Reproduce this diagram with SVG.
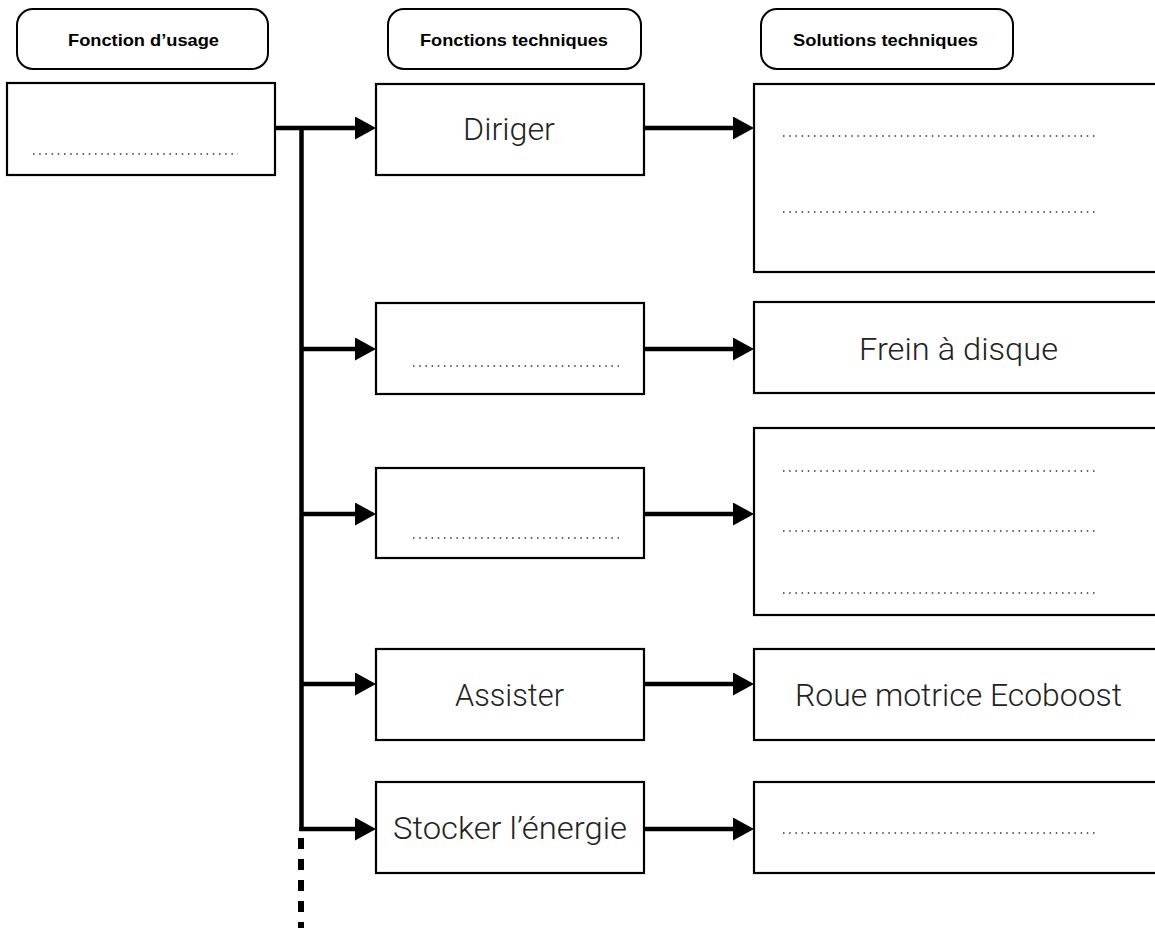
<svg xmlns="http://www.w3.org/2000/svg" width="1155" height="928" viewBox="0 0 1155 928">
<style>
.pill{fill:#fff;stroke:#000;stroke-width:2}
.box{fill:#fff;stroke:#000;stroke-width:2.2}
.hdr{font-family:"Liberation Sans",Arial,sans-serif;font-weight:bold;font-size:17px;fill:#000;text-anchor:middle}
.lbl{font-family:Roboto,"Liberation Sans",sans-serif;font-weight:300;font-size:30.5px;fill:#222;text-anchor:middle}
.dots{stroke:#333;stroke-width:1.5;stroke-dasharray:1.5 4.7;fill:none}
.conn{stroke:#000;stroke-width:4.5;fill:none}
</style>
<defs>
<marker id="ah" markerUnits="userSpaceOnUse" markerWidth="21" markerHeight="23" refX="4" refY="11.5" orient="auto">
<path d="M0,0 L21,11.5 L0,23 Z" fill="#000"/>
</marker>
</defs>
<g id="hdr-usage"><rect class="pill" x="17" y="9" width="251" height="60" rx="16"/><text class="hdr" x="143.5" y="46" textLength="151" lengthAdjust="spacingAndGlyphs">Fonction d’usage</text></g>
<g id="hdr-fonctions"><rect class="pill" x="388" y="9" width="253" height="60" rx="16"/><text class="hdr" x="514" y="46" textLength="188" lengthAdjust="spacingAndGlyphs">Fonctions techniques</text></g>
<g id="hdr-solutions"><rect class="pill" x="761" y="9" width="252" height="60" rx="16"/><text class="hdr" x="885.5" y="46" textLength="185" lengthAdjust="spacingAndGlyphs">Solutions techniques</text></g>

<g id="usage"><rect class="box" x="7" y="83" width="268" height="92"/><line class="dots" x1="33" y1="154" x2="238" y2="154"/></g>

<g id="ft-diriger"><rect class="box" x="376" y="84" width="268" height="91"/><text class="lbl" x="509" y="140" textLength="92" lengthAdjust="spacingAndGlyphs">Diriger</text></g>
<g id="ft-2"><rect class="box" x="376" y="303" width="268" height="91"/><line class="dots" x1="413" y1="366" x2="619" y2="366"/></g>
<g id="ft-3"><rect class="box" x="376" y="468" width="268" height="90"/><line class="dots" x1="413" y1="538" x2="619" y2="538"/></g>
<g id="ft-assister"><rect class="box" x="376" y="649" width="268" height="91"/><text class="lbl" x="509.5" y="706" textLength="109" lengthAdjust="spacingAndGlyphs">Assister</text></g>
<g id="ft-stocker"><rect class="box" x="376" y="782" width="268" height="91"/><text class="lbl" x="510" y="839" textLength="234" lengthAdjust="spacingAndGlyphs">Stocker l’énergie</text></g>

<g id="st-1"><rect class="box" x="754" y="84" width="420" height="188"/><line class="dots" x1="783" y1="136" x2="1099" y2="136"/><line class="dots" x1="783" y1="212" x2="1099" y2="212"/></g>
<g id="st-frein"><rect class="box" x="754" y="302" width="420" height="91"/><text class="lbl" x="958.5" y="360" textLength="199" lengthAdjust="spacingAndGlyphs">Frein à disque</text></g>
<g id="st-3"><rect class="box" x="754" y="428" width="420" height="187"/><line class="dots" x1="783" y1="471" x2="1099" y2="471"/><line class="dots" x1="783" y1="531" x2="1099" y2="531"/><line class="dots" x1="783" y1="593" x2="1099" y2="593"/></g>
<g id="st-roue"><rect class="box" x="754" y="649" width="420" height="91"/><text class="lbl" x="958.5" y="706" textLength="327" lengthAdjust="spacingAndGlyphs">Roue motrice Ecoboost</text></g>
<g id="st-5"><rect class="box" x="754" y="782" width="420" height="91"/><line class="dots" x1="783" y1="833" x2="1099" y2="833"/></g>

<g id="connectors">
<path class="conn" d="M275,128 H359" marker-end="url(#ah)"/>
<path class="conn" d="M301.5,126 V831"/>
<path d="M301,838 V928" stroke="#000" stroke-width="6" stroke-dasharray="11 10"/>
<path class="conn" d="M301.5,349 H359" marker-end="url(#ah)"/>
<path class="conn" d="M301.5,514 H359" marker-end="url(#ah)"/>
<path class="conn" d="M301.5,684 H359" marker-end="url(#ah)"/>
<path class="conn" d="M299.3,829 H359" marker-end="url(#ah)"/>
<path class="conn" d="M644,128 H737" marker-end="url(#ah)"/>
<path class="conn" d="M644,349 H737" marker-end="url(#ah)"/>
<path class="conn" d="M644,514 H737" marker-end="url(#ah)"/>
<path class="conn" d="M644,684 H737" marker-end="url(#ah)"/>
<path class="conn" d="M644,829 H737" marker-end="url(#ah)"/>
</g>
</svg>
